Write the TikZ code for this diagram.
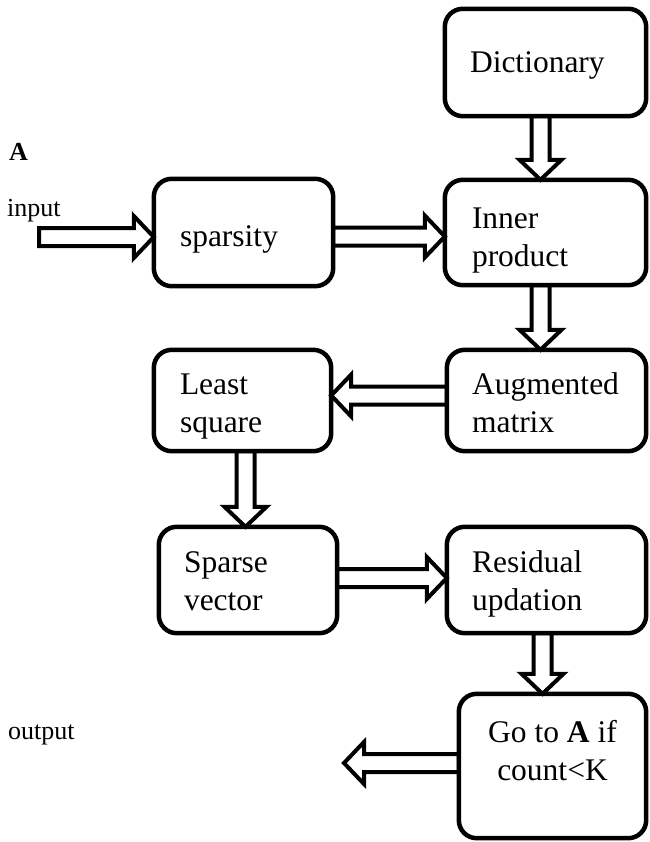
\documentclass[tikz,border=0pt]{standalone}
\usepackage{fontspec}
\setmainfont{Liberation Serif}
\usetikzlibrary{calc}
\tikzset{
 box/.style={draw, line width=4.5pt, rounded corners=18pt, inner sep=0pt},
 txt/.style={inner sep=0pt, align=left, font=\fontsize{31.5}{38}\selectfont},
 fat/.style={draw, fill=white, line width=4pt, line join=miter},
 lbl/.style={inner sep=0pt, font=\fontsize{26}{30}\selectfont}
}
\newcommand{\arrdown}[2]{\path[fat] let \p1=(#1), \p2=(#2) in (\x1-9pt,\y1) -- (\x1-9pt,\y2+20pt) -- (\x1-21pt,\y2+20pt) -- (\x1,\y2) -- (\x1+21pt,\y2+20pt) -- (\x1+9pt,\y2+20pt) -- (\x1+9pt,\y1) -- cycle;}
\newcommand{\arrright}[2]{\path[fat] let \p1=(#1), \p2=(#2) in (\x1,\y1+9pt) -- (\x2-20pt,\y1+9pt) -- (\x2-20pt,\y1+21pt) -- (\x2,\y1) -- (\x2-20pt,\y1-21pt) -- (\x2-20pt,\y1-9pt) -- (\x1,\y1-9pt) -- cycle;}
\newcommand{\arrleft}[2]{\path[fat] let \p1=(#1), \p2=(#2) in (\x1,\y1+9pt) -- (\x2+20pt,\y1+9pt) -- (\x2+20pt,\y1+21pt) -- (\x2,\y1) -- (\x2+20pt,\y1-21pt) -- (\x2+20pt,\y1-9pt) -- (\x1,\y1-9pt) -- cycle;}
\begin{document}
\begin{tikzpicture}[x=1pt,y=-1pt]
\useasboundingbox (0,0) rectangle (649,842);
% box shapes (borders redrawn on top of arrows at the end)
\node[minimum width=201pt, minimum height=107pt, inner sep=0pt] (dict) at (545.5,62.5) {};
\node[minimum width=201pt, minimum height=105pt, inner sep=0pt] (inner) at (545.5,232.5) {};
\node[minimum width=179pt, minimum height=107pt, inner sep=0pt] (spars) at (243.5,232.5) {};
\node[minimum width=177pt, minimum height=101pt, inner sep=0pt] (least) at (242.5,400.5) {};
\node[minimum width=199pt, minimum height=101pt, inner sep=0pt] (aug) at (546.5,400.5) {};
\node[minimum width=178pt, minimum height=106pt, inner sep=0pt] (sparse) at (248,580) {};
\node[minimum width=199pt, minimum height=106pt, inner sep=0pt] (resid) at (546.5,580) {};
\node[minimum width=187pt, minimum height=144pt, inner sep=0pt] (go) at (552.5,766) {};
% texts
\node[txt, anchor=west] (tdict) at ($(dict.west)+(25,3)$) {Dictionary};
\node[txt, anchor=west] (tinner) at ($(inner.west)+(27,8)$) {Inner\\product};
\node[txt, anchor=west] (tspars) at ($(spars.west)+(26,7)$) {sparsity};
\node[txt, anchor=west] (tleast) at ($(least.west)+(26,6)$) {Least\\square};
\node[txt, anchor=west] (taug) at ($(aug.west)+(25,2)$) {Augmented\\matrix};
\node[txt, anchor=west] (tsparse) at ($(sparse.west)+(25,1)$) {Sparse\\vector};
\node[txt, anchor=west] (tresid) at ($(resid.west)+(25,4)$) {Residual\\updation};
\node[txt, align=center] (tgo) at ($(go.center)+(0,-15)$) {Go to \textbf{A} if\\count<K};
% labels
\node[lbl, anchor=west] (lA) at (9,152) {\textbf{A}};
\node[lbl, anchor=west] (lin) at (7,211) {input};
\node[lbl, anchor=west] (lout) at (8,735) {output};
% free ends
\coordinate (inp) at (39,237);
\coordinate (outtip) at (344,763);
% arrows
\arrright{inp}{spars.west}
\arrright{$(spars.east)+(0,4)$}{inner.west}
\arrdown{$(dict.south)+(-5,0)$}{$(inner.north)+(-5,0)$}
\arrdown{$(inner.south)+(-5,0)$}{$(aug.north)+(-6,0)$}
\arrleft{$(aug.west)+(0,-5)$}{least.east}
\arrdown{$(least.south)+(3,0)$}{$(sparse.north)+(-2,0)$}
\arrright{$(sparse.east)+(0,-2)$}{resid.west}
\arrdown{$(resid.south)+(-4,0)$}{$(go.north)+(-10,0)$}
\arrleft{go.west |- outtip}{outtip}
% box borders
\foreach \n in {dict,inner,spars,least,aug,sparse,resid,go}{
 \draw[box] (\n.north west) rectangle (\n.south east);
}
\end{tikzpicture}
\end{document}
